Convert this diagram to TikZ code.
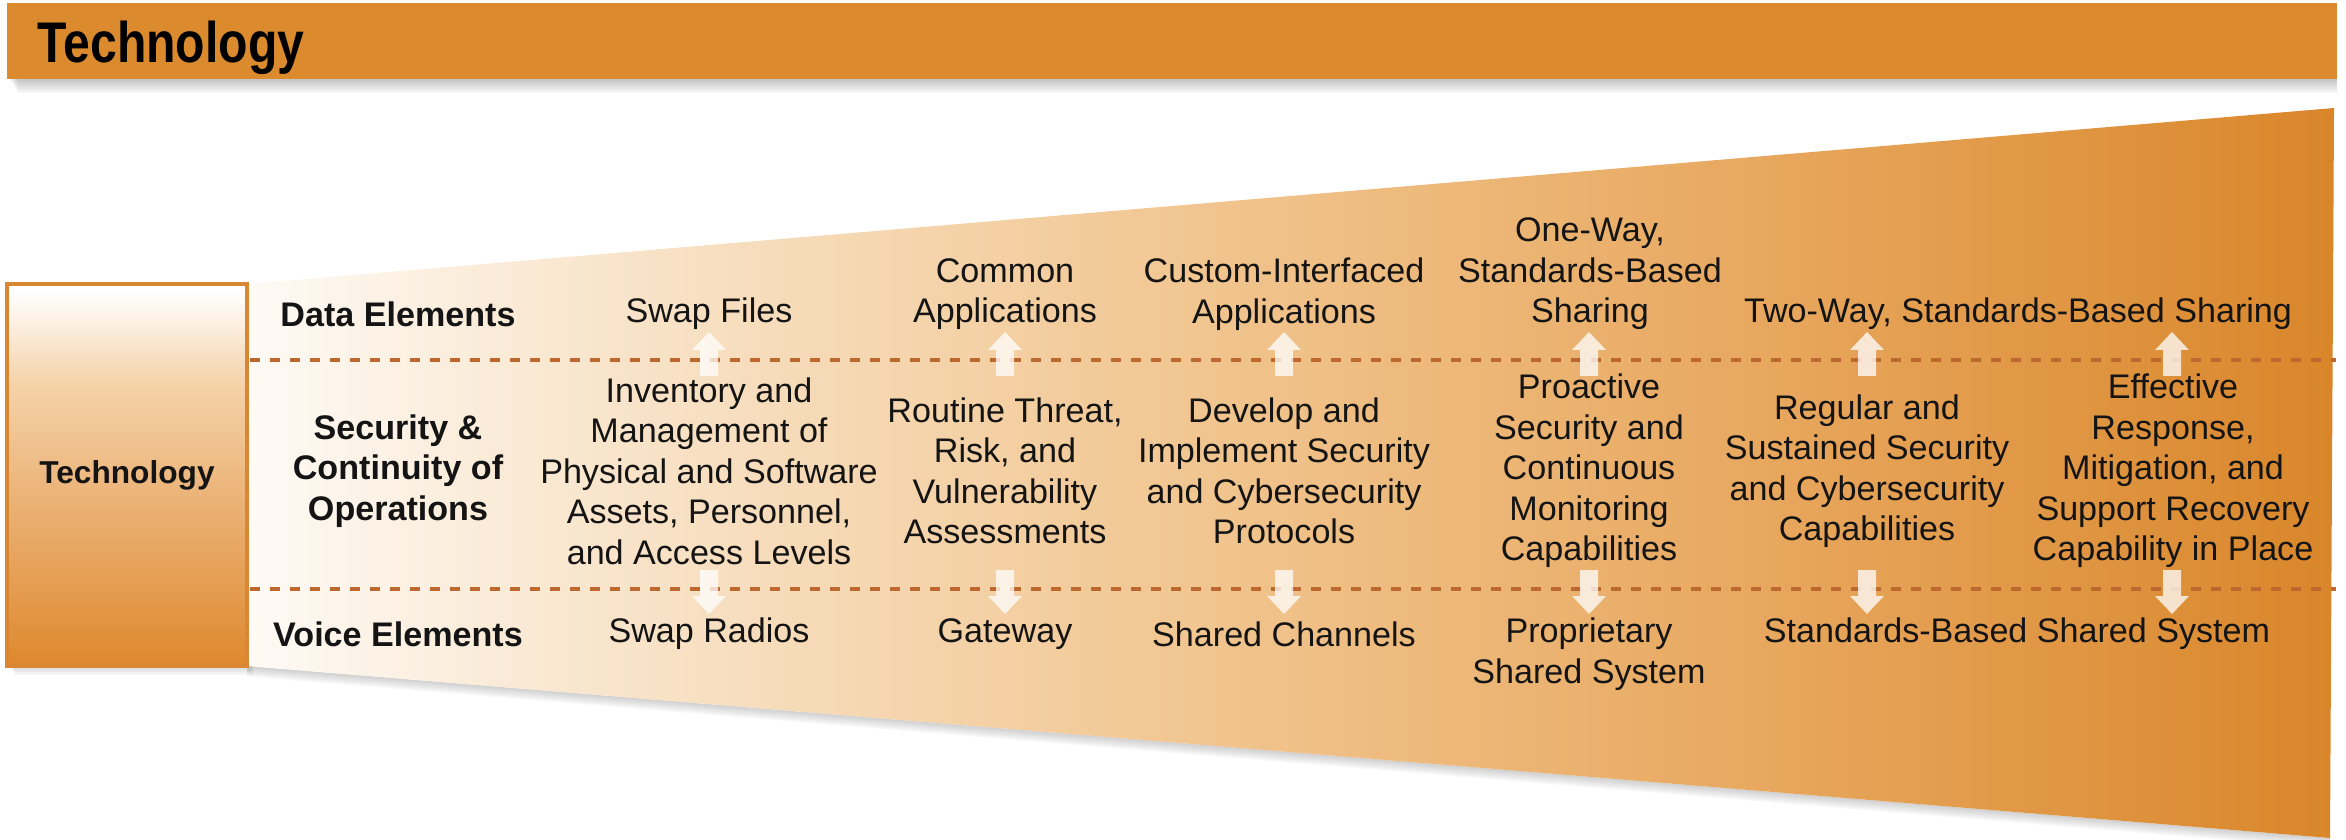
\documentclass[tikz,border=0pt]{standalone}
\usepackage{fontspec}
\setmainfont{Liberation Sans}
\newfontfamily\titlefont{Liberation Sans}[FakeStretch=0.84]
\usetikzlibrary{shadows}
\definecolor{barorange}{HTML}{DB8A2D}
\definecolor{boxborder}{HTML}{DA8733}
\definecolor{sepcol}{HTML}{BC682E}
\definecolor{textc}{HTML}{141414}
\definecolor{fa}{HTML}{FEFAF5}
\definecolor{fb}{HTML}{F9E6CE}
\definecolor{fc}{HTML}{F1C58F}
\definecolor{fd}{HTML}{E7A65C}
\definecolor{fe}{HTML}{D9862A}
\definecolor{ba}{HTML}{DE882D}
\definecolor{bb}{HTML}{E6A057}
\definecolor{bc}{HTML}{EDB981}
\definecolor{bd}{HTML}{F5D2A9}
\definecolor{be}{HTML}{FFFFFF}
\pgfdeclarehorizontalshading{funnelshade}{100bp}{color(0bp)=(fa); color(25bp)=(fa); color(33bp)=(fb); color(48bp)=(fc); color(62bp)=(fd); color(75bp)=(fe); color(100bp)=(fe)}
\pgfdeclareverticalshading{boxshade}{100bp}{color(0bp)=(ba); color(25bp)=(ba); color(37bp)=(bb); color(50bp)=(bc); color(62bp)=(bd); color(74bp)=(be); color(100bp)=(be)}
\begin{document}
\begin{tikzpicture}[x=0.01cm,y=-0.01cm,
  cell/.style={align=center, inner sep=0pt, text=textc, font=\fontsize{9.7}{11.5}\selectfont},
  lab/.style={align=center, inner sep=0pt, text=textc, font=\bfseries\fontsize{9.7}{11.5}\selectfont},
  sep/.style={draw=sepcol, line width=0.035cm, dash pattern=on 0.1cm off 0.1cm},
  arrowfill/.style={fill=white, fill opacity=0.75},
  softshadow/.style={fill=black, fill opacity=0.028},
  uparr/.pic={\fill[arrowfill] (0,0) -- (17,18) -- (9,18) -- (9,44) -- (-9,44) -- (-9,18) -- (-17,18) -- cycle;},
  downarr/.pic={\fill[arrowfill] (0,0) -- (17,-18) -- (9,-18) -- (9,-44) -- (-9,-44) -- (-9,-18) -- (-17,-18) -- cycle;},
  techbox/.style={draw=boxborder, line width=0.04cm, shade, shading=boxshade, minimum width=2.40cm, minimum height=3.82cm, inner sep=0pt, text=textc, font=\bfseries\fontsize{9}{11}\selectfont}
]
\useasboundingbox (0,0) rectangle (2346,840);
% soft shadow of title bar
\foreach \i in {1,...,9}{
  \fill[softshadow] (9+\i,79) rectangle (2337,79+1.6*\i);
}
% title bar
\fill[barorange] (7,3) rectangle (2337,79);
\node[anchor=base west, inner sep=0pt, text=black, font=\titlefont\bfseries\fontsize{16.3}{18}\selectfont] (title) at (37,63) {Technology};
% soft shadow of funnel
\foreach \i in {1,...,7}{
  \fill[softshadow] (247,666+1.5*\i) -- (2330,838+1.5*\i) -- (2330,838) -- (247,666) -- cycle;
}
% funnel
\shade[shading=funnelshade] (247,284) -- (2334,108) -- (2330,838) -- (247,666) -- cycle;
% soft shadow of left box
\foreach \i in {1,...,6}{
  \fill[softshadow] (9+\i,666) rectangle (247+1.2*\i,666+1.5*\i);
}
% left box
\node[techbox] (tech) at (127,475) {Technology};
% separators
\coordinate (s1l) at (250,360); \coordinate (s1r) at (2336,360);
\coordinate (s2l) at (250,589); \coordinate (s2r) at (2336,589);
\draw[sep] (s1l) -- (s1r);
\draw[sep] (s2l) -- (s2r);
% arrows
\foreach \xx in {709,1005,1284,1589,1867,2172}{
  \pic at (\xx,332) {uparr};
  \pic at (\xx,614) {downarr};
}
% row labels
\node[lab] (ldata) at (398,314) {Data Elements};
\node[lab] (lsec) at (398,471) {Security \&\\Continuity of\\Operations};
\node[lab] (lvoice) at (398,634) {Voice Elements};
% data row
\node[cell] (d1) at (709,314) {Swap Files};
\node[cell] (d2) at (1005,294) {Common\\Applications};
\node[cell] (d3) at (1284,294) {Custom-Interfaced\\Applications};
\node[cell] (d4) at (1590,274) {One-Way,\\Standards-Based\\Sharing};
\node[cell] (d5) at (2018,314) {Two-Way, Standards-Based Sharing};
% security row
\node[cell] (c1) at (709,471) {Inventory and\\Management of\\Physical and Software\\Assets, Personnel,\\and Access Levels};
\node[cell] (c2) at (1005,471) {Routine Threat,\\Risk, and\\Vulnerability\\Assessments};
\node[cell] (c3) at (1284,471) {Develop and\\Implement Security\\and Cybersecurity\\Protocols};
\node[cell] (c4) at (1589,471) {Proactive\\Security and\\Continuous\\Monitoring\\Capabilities};
\node[cell] (c5) at (1867,471) {Regular and\\Sustained Security\\and Cybersecurity\\Capabilities};
\node[cell] (c6) at (2173,471) {Effective\\Response,\\Mitigation, and\\Support Recovery\\Capability in Place};
% voice row
\node[cell] (v1) at (709,634) {Swap Radios};
\node[cell] (v2) at (1005,634) {Gateway};
\node[cell] (v3) at (1284,634) {Shared Channels};
\node[cell] (v4) at (1589,654) {Proprietary\\Shared System};
\node[cell] (v5) at (2017,634) {Standards-Based Shared System};
\end{tikzpicture}
\end{document}
